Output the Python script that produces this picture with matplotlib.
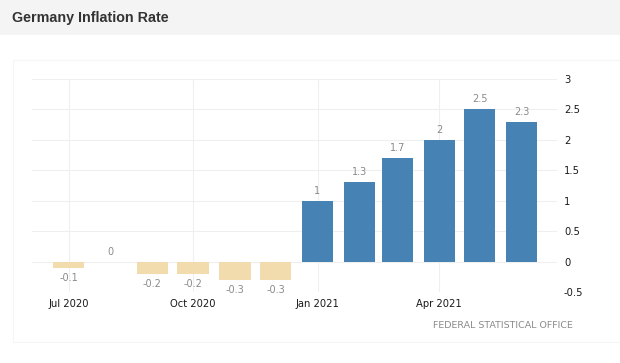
import matplotlib
matplotlib.use("Agg")
import matplotlib.pyplot as plt
import matplotlib.dates as mdates
from matplotlib.patches import Rectangle
import datetime as dt

months = ["2020-07", "2020-08", "2020-09", "2020-10", "2020-11", "2020-12",
          "2021-01", "2021-02", "2021-03", "2021-04", "2021-05", "2021-06"]
values = [-0.1, 0.0, -0.2, -0.2, -0.3, -0.3, 1.0, 1.3, 1.7, 2.0, 2.5, 2.3]
value_labels = ["-0.1", "0", "-0.2", "-0.2", "-0.3", "-0.3", "1", "1.3", "1.7", "2", "2.5", "2.3"]
x_ticks = ["2020-07", "2020-10", "2021-01", "2021-04"]
x_tick_labels = ["Jul 2020", "Oct 2020", "Jan 2021", "Apr 2021"]
y_ticks = [-0.5, 0, 0.5, 1, 1.5, 2, 2.5, 3]
y_tick_labels = ["-0.5", "0", "0.5", "1", "1.5", "2", "2.5", "3"]

def to_date(s):
    y, m = s.split("-")
    return dt.date(int(y), int(m), 1)

dates = [to_date(m) for m in months]
xnum = mdates.date2num(dates)

W, H = 620, 363
fig = plt.figure(figsize=(W / 100, H / 100), dpi=100)
fig.patch.set_facecolor("white")

# title bar
fig.patches.append(Rectangle((0, 1 - 35 / H), 1, 35 / H, transform=fig.transFigure,
                             facecolor="#f4f4f4", edgecolor="none", zorder=0))
# faint panel border
fig.patches.append(Rectangle((13 / W, 1 - 342 / H), 1.0, (342 - 60) / H, transform=fig.transFigure,
                             facecolor="none", edgecolor="#f6f6f6", linewidth=0.8, zorder=0))
fig.text(12 / W, 1 - 18 / H, "Germany Inflation Rate", ha="left", va="center",
         fontsize=10.3, fontweight="bold", color="#333333", family="Liberation Sans")

ax = fig.add_axes([32 / W, 1 - 292 / H, (557 - 32) / W, (292 - 79) / H])
ax.set_facecolor("none")
for s in ax.spines.values():
    s.set_visible(False)

colors = ["#4682b4" if v > 0 else "#f2dcae" for v in values]
ax.bar(xnum, values, width=23, color=colors, align="center", zorder=2)

ax.set_xlim(mdates.date2num(dt.date(2020, 6, 4)), mdates.date2num(dt.date(2021, 6, 27)))
ax.set_ylim(-0.5, 3)

ax.set_yticks(y_ticks)
ax.set_yticklabels(y_tick_labels)
ax.yaxis.tick_right()
ax.set_xticks(mdates.date2num([to_date(t) for t in x_ticks]))
ax.set_xticklabels(x_tick_labels)
ax.tick_params(axis="both", length=0, labelsize=7.2, colors="#1a1a1a")
ax.tick_params(axis="y", pad=5)
ax.tick_params(axis="x", pad=5)
ax.grid(True, color="#efefef", linewidth=0.8, zorder=0)

ppu = (292 - 79) / 3.5  # pixels per unit
off = 10 / ppu
for x, v, lab in zip(xnum, values, value_labels):
    y = v + off if v >= 0 else v - off
    ax.text(x, y, lab, ha="center", va="center", fontsize=7, color="#8a8a8a",
            family="DejaVu Sans")

fig.text(573 / W, 1 - 326 / H, "FEDERAL STATISTICAL OFFICE", ha="right", va="center",
         fontsize=6.8, color="#8a8a8a", family="DejaVu Sans")

fig.savefig("out.png", dpi=100)
